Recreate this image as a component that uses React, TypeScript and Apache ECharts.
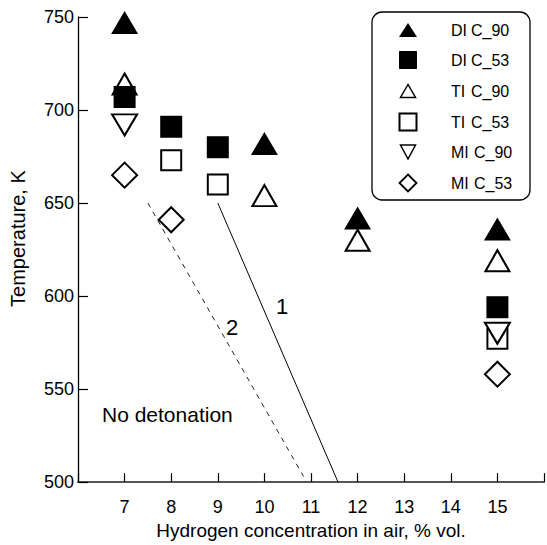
import React, { useEffect, useRef } from "react";
import * as echarts from "echarts";

// ---- data ----
const diC90X = [7, 10, 12, 15];
const diC90Y = [747, 682, 642, 636];
const diC53X = [7, 8, 9, 15];
const diC53Y = [707, 691, 680, 594];
const tiC90X = [7, 10, 12, 15];
const tiC90Y = [714, 654, 630, 619];
const tiC53X = [8, 9, 15];
const tiC53Y = [673, 660, 577];
const miC90X = [7, 15];
const miC90Y = [692, 580];
const miC53X = [7, 8, 15];
const miC53Y = [665, 641, 558];

const line1X = [9.0, 11.58];
const line1Y = [650, 500];
const line2X = [7.5, 10.84];
const line2Y = [650, 503];

const xTicks = [7, 8, 9, 10, 11, 12, 13, 14, 15];
const legendPrefixes = ["DI", "DI", "TI", "TI", "MI", "MI"];
const legendSuffixes = ["C_90", "C_53", "C_90", "C_53", "C_90", "C_53"];

const FONT = "'Liberation Sans', Arial, sans-serif";

const zip = (xs: number[], ys: number[]) => xs.map((x, i) => [x, ys[i]]);

const filled = { color: "#000", opacity: 1 };
const hollow = { color: "#fff", borderColor: "#000", borderWidth: 2, opacity: 1 };

export default function App() {
  const ref = useRef<HTMLDivElement>(null);
  useEffect(() => {
    if (!ref.current) return;
    const chart = echarts.init(ref.current, undefined, { renderer: "svg" });

    const rowY = [30, 60, 91, 122, 152, 183];
    const iconX = 408;
    const legendIcons: any[] = [
      { type: "polygon", shape: { points: [[iconX, rowY[0] - 7], [iconX - 9, rowY[0] + 7], [iconX + 9, rowY[0] + 7]] }, style: { fill: "#000" } },
      { type: "rect", shape: { x: iconX - 9, y: rowY[1] - 9, width: 18, height: 18 }, style: { fill: "#000" } },
      { type: "polygon", shape: { points: [[iconX, rowY[2] - 6.5], [iconX - 7.5, rowY[2] + 6.5], [iconX + 7.5, rowY[2] + 6.5]] }, style: { fill: "#fff", stroke: "#000", lineWidth: 1.5 } },
      { type: "rect", shape: { x: iconX - 8.5, y: rowY[3] - 8.5, width: 17, height: 17 }, style: { fill: "#fff", stroke: "#000", lineWidth: 2 } },
      { type: "polygon", shape: { points: [[iconX - 7.5, rowY[4] - 7], [iconX + 7.5, rowY[4] - 7], [iconX, rowY[4] + 7]] }, style: { fill: "#fff", stroke: "#000", lineWidth: 1.5 } },
      { type: "polygon", shape: { points: [[iconX, rowY[5] - 8.5], [iconX + 8.5, rowY[5]], [iconX, rowY[5] + 8.5], [iconX - 8.5, rowY[5]]] }, style: { fill: "#fff", stroke: "#000", lineWidth: 1.8 } },
    ];
    const legendTexts: any[] = [];
    legendPrefixes.forEach((p, i) => {
      legendTexts.push({
        type: "text",
        x: 451,
        y: rowY[i],
        style: { text: p, font: `16px ${FONT}`, fill: "#000", textVerticalAlign: "middle", verticalAlign: "middle" },
      });
      legendTexts.push({
        type: "text",
        x: p === "MI" ? 474 : 471,
        y: rowY[i],
        style: { text: legendSuffixes[i], font: `16px ${FONT}`, fill: "#000", textVerticalAlign: "middle", verticalAlign: "middle" },
      });
    });

    const scatterBase = {
      type: "scatter",
      xAxisIndex: 0,
      yAxisIndex: 0,
      emphasis: { disabled: true },
      silent: true,
    };

    chart.setOption({
      animation: false,
      backgroundColor: "#fff",
      grid: { left: 76, top: 17, width: 473, height: 473, containLabel: false },
      xAxis: {
        type: "value",
        min: 6,
        max: 16,
        interval: 1,
        name: "Hydrogen concentration in air, % vol.",
        nameLocation: "middle",
        nameGap: 37,
        nameTextStyle: { fontFamily: FONT, fontSize: 19, color: "#000" },
        axisLine: { onZero: false, lineStyle: { color: "#555", width: 2 } },
        axisTick: { inside: true, length: 9, lineStyle: { color: "#000", width: 1.2 } },
        axisLabel: {
          margin: 16,
          fontFamily: FONT,
          fontSize: 18,
          color: "#000",
          formatter: (v: number) => (xTicks.includes(v) ? String(v) : ""),
        },
        splitLine: { show: false },
      },
      yAxis: {
        type: "value",
        min: 500,
        max: 750,
        interval: 50,
        name: "Temperature, K",
        nameLocation: "middle",
        nameGap: 50,
        nameTextStyle: { fontFamily: FONT, fontSize: 20, color: "#000", padding: [0, 0, 0, 22] },
        axisLine: { onZero: false, lineStyle: { color: "#000", width: 1.3 } },
        axisTick: { inside: true, length: 10, lineStyle: { color: "#000", width: 1.2 } },
        axisLabel: { margin: 4, fontFamily: FONT, fontSize: 18, color: "#000" },
        splitLine: { show: false },
      },
      series: [
        {
          type: "line",
          name: "1",
          data: zip(line1X, line1Y),
          symbol: "none",
          lineStyle: { color: "#000", width: 1 },
          silent: true,
          z: 1,
        },
        {
          type: "line",
          name: "2",
          data: zip(line2X, line2Y),
          symbol: "none",
          lineStyle: { color: "#222", width: 1, type: [5, 5] },
          silent: true,
          z: 1,
        },
        { ...scatterBase, name: "DI C_90", data: zip(diC90X, diC90Y), symbol: "triangle", symbolSize: [27, 23], itemStyle: filled, z: 4 },
        { ...scatterBase, name: "DI C_53", data: zip(diC53X, diC53Y), symbol: "rect", symbolSize: [22, 22], itemStyle: filled, z: 4 },
        { ...scatterBase, name: "TI C_90", data: zip(tiC90X, tiC90Y), symbol: "triangle", symbolSize: [24, 21], itemStyle: hollow, z: 3 },
        { ...scatterBase, name: "TI C_53", data: zip(tiC53X, tiC53Y), symbol: "rect", symbolSize: [20, 20], itemStyle: hollow, z: 3 },
        { ...scatterBase, name: "MI C_90", data: zip(miC90X, miC90Y), symbol: "triangle", symbolRotate: 180, symbolSize: [25, 21], itemStyle: hollow, z: 3 },
        { ...scatterBase, name: "MI C_53", data: zip(miC53X, miC53Y), symbol: "diamond", symbolSize: [25, 25], itemStyle: hollow, z: 3 },
      ],
      graphic: [
        {
          type: "text",
          x: 282,
          y: 306,
          style: { text: "1", font: `22px ${FONT}`, fill: "#000", textAlign: "center", textVerticalAlign: "middle", align: "center", verticalAlign: "middle" },
          z: 10,
        },
        {
          type: "text",
          x: 232,
          y: 327,
          style: { text: "2", font: `22px ${FONT}`, fill: "#000", textAlign: "center", textVerticalAlign: "middle", align: "center", verticalAlign: "middle" },
          z: 10,
        },
        {
          type: "text",
          x: 102,
          y: 414,
          style: { text: "No detonation", font: `21px ${FONT}`, fill: "#000", textVerticalAlign: "middle", verticalAlign: "middle" },
          z: 10,
        },
        {
          type: "group",
          z: 20,
          children: [
            { type: "rect", shape: { x: 372, y: 12, width: 158, height: 188, r: 10 }, style: { fill: "#fff", stroke: "#000", lineWidth: 1.3 } },
            ...legendIcons,
            ...legendTexts,
          ],
        },
      ],
    });
    return () => chart.dispose();
  }, []);
  return (
    <div
      ref={ref}
      style={{ position: "fixed", left: 0, top: 0, width: 547, height: 545, background: "#fff" }}
    />
  );
}
